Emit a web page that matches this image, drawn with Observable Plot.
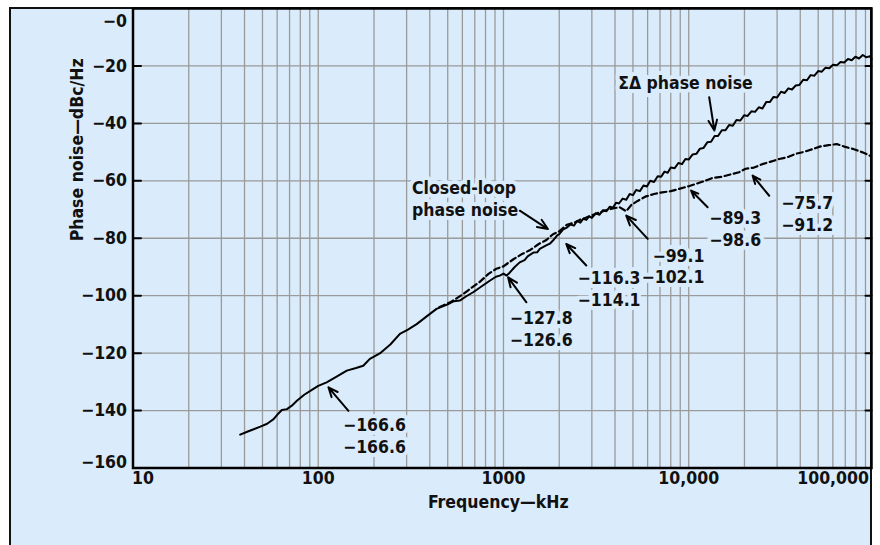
<!DOCTYPE html>
<html><head><meta charset="utf-8">
<script src="https://cdn.jsdelivr.net/npm/d3@7"></script>
<script src="https://cdn.jsdelivr.net/npm/@observablehq/plot@0.6"></script>
<style>
html,body{margin:0;padding:0;background:#fff;width:880px;height:545px;overflow:hidden;}
#panel{position:absolute;left:9px;top:7px;width:859px;height:560px;background:#daecfb;border-left:2px solid #111;border-top:2px solid #111;border-right:2px solid #111;}
#chart{position:absolute;left:0;top:0;}
</style></head><body><div id="panel"></div><div id="chart"></div>
<script>
// ΣΔ phase noise (solid)
const sdFreq = [37.9,42,48.7,53,57.4,61,63.6,67.8,72,76.7,84,92.4,100,111,125,142.6,160,175,190,215,245,276,305,340,385,435,500,540,581,630,686,760,843,910,955,1000,1040,1080,1150,1223,1300,1350,1450,1520,1570,1700,1780,1850,1950,
  2000,2100,2200,2300,2400,2500,2600,2700,2800,2900,3000,3150,3300,3450,3600,3750,3900,4050,4200,4400,4600,4800,5000,5200,5450,5700,5950,6200,6500,6800,7100,7400,7700,8000,8400,8800,9200,9600,10000,10500,11000,11500,12000,12600,13200,13800,14400,15100,15800,16500,17300,18100,19000,19900,20800,21800,22800,23900,25000,26200,27400,28700,30000,31500,33000,34500,36100,37800,39600,41500,43500,45500,47700,50000,52300,54800,57400,60100,63000,66000,69100,72400,75800,79400,83100,87000,91100,95000,97000];
const sdNoise = [-148.4,-147.2,-145.6,-144.6,-143.0,-141.0,-139.8,-139.5,-138.3,-136.6,-134.5,-132.8,-131.4,-130.2,-128.3,-126.1,-125.2,-124.4,-122.0,-120.1,-117.0,-113.3,-111.8,-109.9,-107.2,-104.6,-103.0,-101.9,-101.7,-100.2,-98.8,-96.8,-94.8,-93.4,-93.0,-92.3,-93.0,-92.0,-90.0,-88.4,-87.6,-86.3,-85.0,-84.9,-83.7,-82.5,-81.9,-80.8,-79.0,
  -78.6,-76.9,-76.3,-75.2,-75.6,-74.0,-74.6,-73.2,-73.6,-72.4,-72.9,-71.3,-71.8,-70.2,-70.6,-69.0,-69.4,-67.6,-67.9,-66.2,-66.6,-64.6,-65.0,-63.2,-63.6,-61.6,-62.0,-60.0,-60.4,-58.4,-58.6,-56.8,-57.2,-55.4,-55.6,-53.8,-54.2,-52.4,-52.6,-50.8,-50.6,-48.8,-48.6,-46.6,-46.4,-44.4,-44.4,-42.4,-42.4,-40.6,-40.8,-38.8,-39.0,-37.2,-37.4,-35.8,-36.0,-34.4,-34.8,-32.6,-32.6,-30.8,-31.0,-29.0,-29.4,-27.8,-28.2,-26.8,-26.6,-24.8,-25.0,-23.2,-23.4,-21.8,-22.0,-20.6,-20.8,-19.6,-19.8,-18.6,-18.8,-17.6,-18.0,-16.8,-17.4,-16.2,-17.0,-16.6,-17.6];
// Closed-loop phase noise (dashed)
const clFreq = [450,520,607,680,745,830,916,1000,1060,1127,1250,1385,1550,1706,1850,2000,2200,2400,2580,2800,3000,3300,3600,3900,4240,4600,4900,5300,5890,6500,7200,8000,8890,10100,11500,12500,13460,15000,17260,18700,20300,22500,24980,27500,30800,34000,37800,41500,46500,51500,57000,63000,70000,78000,86000,92000,96000];
const clNoise = [-104.0,-102.2,-99.4,-97.0,-95.2,-92.4,-90.6,-89.8,-88.6,-87.4,-85.6,-84.2,-82.0,-80.6,-78.6,-77.6,-75.3,-74.6,-73.6,-72.8,-72.0,-71.0,-70.2,-69.6,-69.2,-70.6,-68.4,-67.0,-65.4,-64.6,-64.0,-63.6,-62.8,-61.8,-60.6,-59.8,-59.0,-58.6,-57.6,-57.0,-55.8,-55.4,-54.2,-53.4,-52.4,-51.8,-50.6,-50.0,-49.0,-48.0,-47.6,-47.2,-48.2,-49.0,-50.0,-50.8,-51.4];

const xTicks = [10,100,1000,10000,100000];
const xTickLabels = ["10","100","1000","10,000","100,000"];
const yTicks = [0,-20,-40,-60,-80,-100,-120,-140,-160];
const yTickLabels = ["−0","−20","−40","−60","−80","−100","−120","−140","−160"];

// annotations: text, anchor point (kHz, dBc/Hz)
const annText = ["ΣΔ phase noise","Closed-loop\nphase noise","−166.6\n−166.6","−127.8\n−126.6","−116.3\n−114.1","−99.1\n−102.1","−89.3\n−98.6","−75.7\n−91.2"];
const annFreq = [9600,321,136,1081,2512,12170,12900,31550];
const annNoise = [-25.6,-65.9,-148.4,-111.1,-97.4,-89.5,-76.5,-71.3];
const annAlign = ["middle","start","start","start","start","end","start","start"];
// arrows: tail -> tip
const arrFreq1 = [12900,1225,145.6,1330,2800,6010,12650,27200];
const arrNoise1 = [-30.9,-70.4,-140.1,-102.3,-89.5,-80.2,-69.2,-65.2];
const arrFreq2 = [13760,1738,113.5,1059,2183,4600,10300,22130];
const arrNoise2 = [-42.5,-76.8,-131.9,-93.6,-82.0,-72.1,-63.4,-58.2];

const BG = "#daecfb";
const FONT = '"DejaVu Sans Condensed","Liberation Sans Narrow","Liberation Sans",sans-serif';
const FS = 17.5;
const xDomain = [10, 97000];

const sd = sdFreq.map((f,i)=>({f, db: sdNoise[i]}));
const cl = clFreq.map((f,i)=>({f, db: clNoise[i]}));
const xt = xTicks.map((v,i)=>({v, label: xTickLabels[i]}));
const yt = yTicks.map((v,i)=>({v, label: yTickLabels[i]}));
const ann = annText.map((t,i)=>({t, f: annFreq[i], db: annNoise[i], a: annAlign[i]}));
const arr = arrFreq1.map((f,i)=>({x1: f, y1: arrNoise1[i], x2: arrFreq2[i], y2: arrNoise2[i]}));
const xGrid = [];
for (const d of [10,100,1000,10000]) for (let k=1;k<=9;k++) { const v=d*k; if (v>xDomain[0] && v<xDomain[1]) xGrid.push(v); }
const yInner = yTicks.slice(1,-1);

const txt = (data, opts) => Plot.text(data, {fill:"#111", fontWeight:"bold", fontSize:FS, ...opts});

const chart = Plot.plot({
  width: 880, height: 545,
  marginLeft: 132.5, marginRight: 9, marginTop: 8, marginBottom: 77.5,
  style: {fontFamily: FONT, background: "transparent", overflow: "visible"},
  x: {type: "log", domain: xDomain, axis: null},
  y: {domain: [-160, 0], axis: null},
  marks: [
    Plot.ruleX(xGrid, {x: d=>d, stroke: "#9a9a9a", strokeWidth: 1.3}),
    Plot.ruleY(yInner, {y: d=>d, stroke: "#9a9a9a", strokeWidth: 1.3}),
    ...["start","middle","end"].map(a => txt(ann.filter(d=>d.a===a), {x:"f", y:"db", text:"t", textAnchor:a, lineHeight:1.25, stroke: BG, strokeWidth: 8})),
    Plot.line(sd, {x:"f", y:"db", stroke:"#000", strokeWidth:2, strokeLinejoin:"round"}),
    Plot.line(cl, {x:"f", y:"db", stroke:"#000", strokeWidth:2.2, strokeDasharray:"6,3.5"}),
    Plot.arrow(arr, {x1:"x1", y1:"y1", x2:"x2", y2:"y2", stroke:"#000", strokeWidth:2, headLength:9, headAngle:45}),
    Plot.vector(yInner, {x: ()=>xDomain[0], y: d=>d, rotate: 90, length: 8, r: 0, anchor: "start", stroke:"#000", strokeWidth: 2}),
    Plot.vector(yInner, {x: ()=>xDomain[1], y: d=>d, rotate: -90, length: 6, r: 0, anchor: "start", stroke:"#000", strokeWidth: 2}),
    Plot.frame({stroke:"#000", strokeWidth: 2.5}),
    txt(yt.slice(1,-1), {y:"v", text:"label", frameAnchor:"left", textAnchor:"end", dx:-6}),
    txt(yt.slice(0,1), {y:"v", text:"label", frameAnchor:"left", textAnchor:"end", dx:-6, dy:13}),
    txt(yt.slice(-1), {y:"v", text:"label", frameAnchor:"left", textAnchor:"end", dx:-6, dy:-6}),
    txt(xt.slice(1,-1), {x:"v", text:"label", frameAnchor:"bottom", dy:16}),
    txt(xt.slice(0,1), {x:"v", text:"label", frameAnchor:"bottom", textAnchor:"start", dx:-1, dy:16}),
    txt(xt.slice(-1), {x:"v", text:"label", frameAnchor:"bottom", textAnchor:"end", dx:-5, dy:16}),
    txt(["Frequency—kHz"], {text: d=>d, frameAnchor:"bottom", dx:-4, dy:40}),
    txt(["Phase noise—dBc/Hz"], {text: d=>d, frameAnchor:"left", rotate:-90, dx:-56, dy:3})
  ]
});
document.getElementById("chart").appendChild(chart);
</script>
</body></html>
